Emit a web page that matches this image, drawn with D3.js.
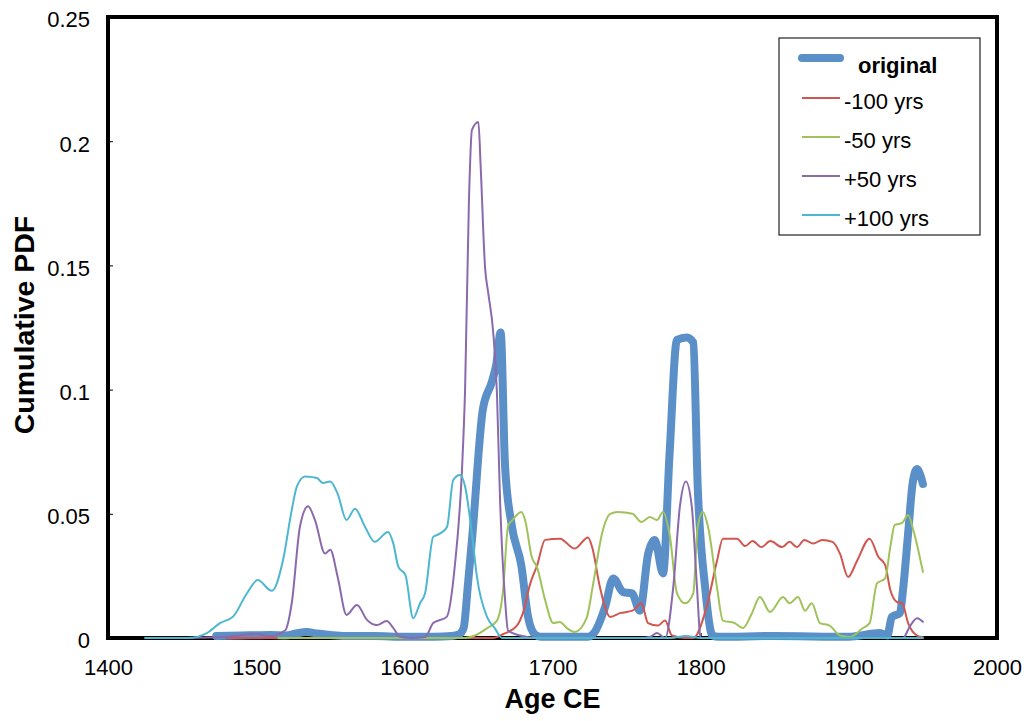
<!DOCTYPE html>
<html>
<head>
<meta charset="utf-8">
<script src="https://cdn.jsdelivr.net/npm/d3@7"></script>
<style>
  body { margin: 0; background: #fff; }
  text { font-family: "Liberation Sans", Arial, Helvetica, sans-serif; }
</style>
</head>
<body>
<div id="my_dataviz"></div>
<script>
// ---- data ----
const origYears = [1473,1490,1510,1520,1527,1534,1541,1550,1560,1580,1600,1620,1632,1637,1640,1643,1646,1653,1659,1662,1665,1668,1672.6,1679,1683.5,1688,1692,1710,1724,1728,1735.5,1741,1747.6,1753.6,1759,1764.6,1769,1774.6,1779,1784,1790.7,1795,1798,1803,1808,1812,1850,1900,1921,1926,1929,1934.5,1936.5,1940,1943,1946,1948,1950];
const origVals  = [0.0008,0.001,0.0012,0.001,0.0018,0.0024,0.0018,0.0012,0.0008,0.0008,0.0005,0.0005,0.0008,0.0015,0.004,0.022,0.042,0.092,0.103,0.11,0.123,0.069,0.045,0.029,0.0085,0.0015,0.0005,0.0005,0.0005,0.002,0.0125,0.024,0.0185,0.018,0.011,0.034,0.0395,0.026,0.074,0.12,0.121,0.119,0.061,0.0205,0.001,0.0005,0.0008,0.0005,0.002,0.001,0.0085,0.010,0.019,0.042,0.062,0.068,0.066,0.062];

const m100Years = [1480,1600,1660,1666.5,1676,1680,1685,1689.5,1695,1705,1715,1724,1727,1732,1739,1745.5,1754,1760,1764.5,1771,1776,1780.6,1790,1795,1804,1811,1815,1824.5,1830,1835,1841,1847,1855,1860,1865,1870,1876,1882,1889,1894,1899.5,1905.5,1914,1920,1924.5,1928,1932.5,1936,1940,1946,1950];
const m100Vals  = [0,0,0,0.0015,0.005,0.01,0.022,0.029,0.0395,0.040,0.036,0.0405,0.036,0.0205,0.0085,0.010,0.011,0.014,0.006,0.005,0.007,0.001,0,0,0.0125,0.031,0.040,0.040,0.037,0.039,0.0366,0.039,0.0366,0.0387,0.0366,0.0395,0.038,0.0395,0.0387,0.034,0.0246,0.031,0.040,0.0326,0.0294,0.0193,0.0145,0.014,0.006,0.001,0.0003];

const m50Years = [1515,1600,1640,1647.7,1656,1662.5,1666.6,1670,1673,1679,1681.5,1686,1689.5,1695,1700.5,1705,1709.7,1715,1723,1727.5,1733.4,1739,1744,1754,1760,1765.8,1770.5,1774.6,1779.3,1784,1789.5,1795,1798,1801.5,1805,1811,1815,1823,1828.6,1834.6,1840,1846.8,1855.6,1860,1865.8,1870.4,1875,1880.5,1887,1894,1900.7,1909.5,1914,1919,1924.5,1928,1931,1936,1940,1943.5,1950];
const m50Vals  = [0,0,0,0.001,0.004,0.007,0.019,0.045,0.0475,0.0507,0.0475,0.0326,0.0286,0.0153,0.006,0.0064,0.004,0.0024,0.008,0.022,0.042,0.050,0.0507,0.050,0.0467,0.0487,0.0475,0.0507,0.0407,0.018,0.014,0.018,0.0447,0.0507,0.0447,0.0205,0.007,0.006,0.004,0.010,0.0165,0.0105,0.0165,0.014,0.0165,0.011,0.014,0.006,0.005,0.001,0.0004,0.004,0.006,0.022,0.024,0.0367,0.0455,0.0463,0.0495,0.0435,0.0266];

const p50Years = [1450,1480,1500,1509,1519.5,1524,1529.6,1535,1539.7,1546.5,1550,1555,1561,1568,1574.8,1581.5,1588,1592.6,1597,1605,1614,1619.5,1628.6,1634,1639,1641,1643.6,1645.6,1650,1651.5,1654.5,1656.6,1660,1662.5,1664.6,1668,1670,1678,1690,1760,1766,1770.5,1776,1781.5,1786,1790,1794,1797.5,1800,1850,1936.6,1941,1946,1950];
const p50Vals  = [0,0.0005,0.0016,0.0008,0.003,0.014,0.045,0.053,0.0475,0.034,0.0355,0.0246,0.0093,0.0133,0.0073,0.0052,0.0068,0.004,0.0005,0,0.0004,0.006,0.0085,0.0286,0.069,0.1,0.176,0.2045,0.2077,0.19,0.149,0.139,0.123,0.0986,0.0556,0.0153,0.003,0.001,0,0,0.0005,0.002,0,0.0205,0.053,0.063,0.053,0.0205,0,0,0,0.0045,0.008,0.0065];

const p100Years = [1425,1448,1454,1466.7,1475.6,1484.4,1493.8,1501,1510.6,1518,1524,1527.5,1533,1541,1545,1550,1555,1561,1566.7,1573.5,1580,1589,1592.6,1596,1600.7,1606,1610.6,1614,1619.5,1624,1628.8,1633,1637.6,1641,1645.6,1649,1655.8,1661,1666,1700,1780,1790,1800,1850,1950];
const p100Vals  = [0,0,0,0.002,0.006,0.0086,0.018,0.0233,0.019,0.031,0.0515,0.061,0.065,0.0644,0.0624,0.063,0.058,0.0475,0.052,0.0447,0.0387,0.0427,0.038,0.0286,0.0254,0.008,0.014,0.018,0.0407,0.042,0.0447,0.0636,0.0656,0.061,0.042,0.0246,0.0085,0.004,0,0,0,0.0008,0,0,0];

const seriesNames  = ["original", "-100 yrs", "-50 yrs", "+50 yrs", "+100 yrs"];
const seriesColors = ["#5b8fc8", "#d0564f", "#9fc25a", "#8a69ac", "#4db7cf"];

const xTicks = [1400, 1500, 1600, 1700, 1800, 1900, 2000];
const yTicks = [0, 0.05, 0.1, 0.15, 0.2, 0.25];
const yTickLabels = ["0", "0.05", "0.1", "0.15", "0.2", "0.25"];

// set the dimensions and margins of the graph
const margin = {top: 17, right: 29, bottom: 83, left: 108},
    width = 1026 - margin.left - margin.right,
    height = 721 - margin.top - margin.bottom;

const svg = d3.select("#my_dataviz")
  .append("svg")
    .attr("width", width + margin.left + margin.right)
    .attr("height", height + margin.top + margin.bottom)
  .append("g")
    .attr("transform", `translate(${margin.left},${margin.top})`);

const x = d3.scaleLinear().domain([1400, 2000]).range([0, width]);
const y = d3.scaleLinear().domain([0, 0.25]).range([height, 0]);

// plot frame (drawn first, series sit on top of it)
svg.append("rect")
  .attr("x", 0).attr("y", 0)
  .attr("width", width).attr("height", height)
  .attr("fill", "none")
  .attr("stroke", "#000")
  .attr("stroke-width", 4);

// X axis (ticks point inside)
const xAxis = svg.append("g")
  .attr("transform", `translate(0, ${height})`)
  .call(d3.axisBottom(x).tickValues(xTicks).tickFormat(d3.format("d"))
        .tickSizeInner(-5).tickSizeOuter(0).tickPadding(21));
xAxis.select(".domain").remove();
xAxis.selectAll("text").attr("font-size", "22px").attr("fill", "#000")
  .style("font-family", "'Liberation Sans', Arial, sans-serif");
xAxis.selectAll("line").attr("stroke", "#000");

// Y axis
const yAxis = svg.append("g")
  .call(d3.axisLeft(y).tickValues(yTicks).tickFormat((d, i) => yTickLabels[i])
        .tickSizeInner(-5).tickSizeOuter(0).tickPadding(18));
yAxis.select(".domain").remove();
yAxis.selectAll("text").attr("font-size", "22px").attr("fill", "#000").attr("dy", "0.45em")
  .style("font-family", "'Liberation Sans', Arial, sans-serif");
yAxis.selectAll("line").attr("stroke", "#000");

// series lines
const series = [
  {years: origYears, vals: origVals, w: 8},
  {years: m100Years, vals: m100Vals, w: 2},
  {years: m50Years,  vals: m50Vals,  w: 2},
  {years: p50Years,  vals: p50Vals,  w: 2},
  {years: p100Years, vals: p100Vals, w: 2}
];

const line = d3.line()
  .x(d => x(d[0]))
  .y(d => y(d[1]))
  .curve(d3.curveMonotoneX);

series.forEach((s, i) => {
  svg.append("path")
    .datum(s.years.map((yr, j) => [yr, s.vals[j]]))
    .attr("fill", "none")
    .attr("stroke", seriesColors[i])
    .attr("stroke-width", s.w)
    .attr("stroke-linejoin", "round")
    .attr("stroke-linecap", "round")
    .attr("d", line);
});

// axis titles
svg.append("text")
  .attr("x", width / 2)
  .attr("y", height + 70)
  .attr("text-anchor", "middle")
  .attr("font-size", "27px")
  .attr("font-weight", "bold")
  .text("Age CE");

svg.append("text")
  .attr("transform", `translate(${34 - margin.left}, ${325 - margin.top}) rotate(-90)`)
  .attr("text-anchor", "middle")
  .attr("font-size", "28.5px")
  .attr("font-weight", "bold")
  .text("Cumulative PDF");

// legend
const legend = svg.append("g")
  .attr("transform", `translate(${779 - margin.left}, ${38 - margin.top})`);

legend.append("rect")
  .attr("width", 201).attr("height", 197)
  .attr("fill", "#fff")
  .attr("stroke", "#222")
  .attr("stroke-width", 1.2);

seriesNames.forEach((name, i) => {
  const ly = i === 0 ? 20 : 60 + (i - 1) * 39;
  legend.append("line")
    .attr("x1", 23).attr("x2", 61)
    .attr("y1", ly).attr("y2", ly)
    .attr("stroke", seriesColors[i])
    .attr("stroke-width", series[i].w)
    .attr("stroke-linecap", i === 0 ? "round" : "butt");
  legend.append("text")
    .attr("x", i === 0 ? 79 : 65)
    .attr("y", i === 0 ? 35 : ly + 11)
    .attr("font-size", "22px")
    .attr("font-weight", i === 0 ? "bold" : "normal")
    .text(name);
});
</script>
</body>
</html>
